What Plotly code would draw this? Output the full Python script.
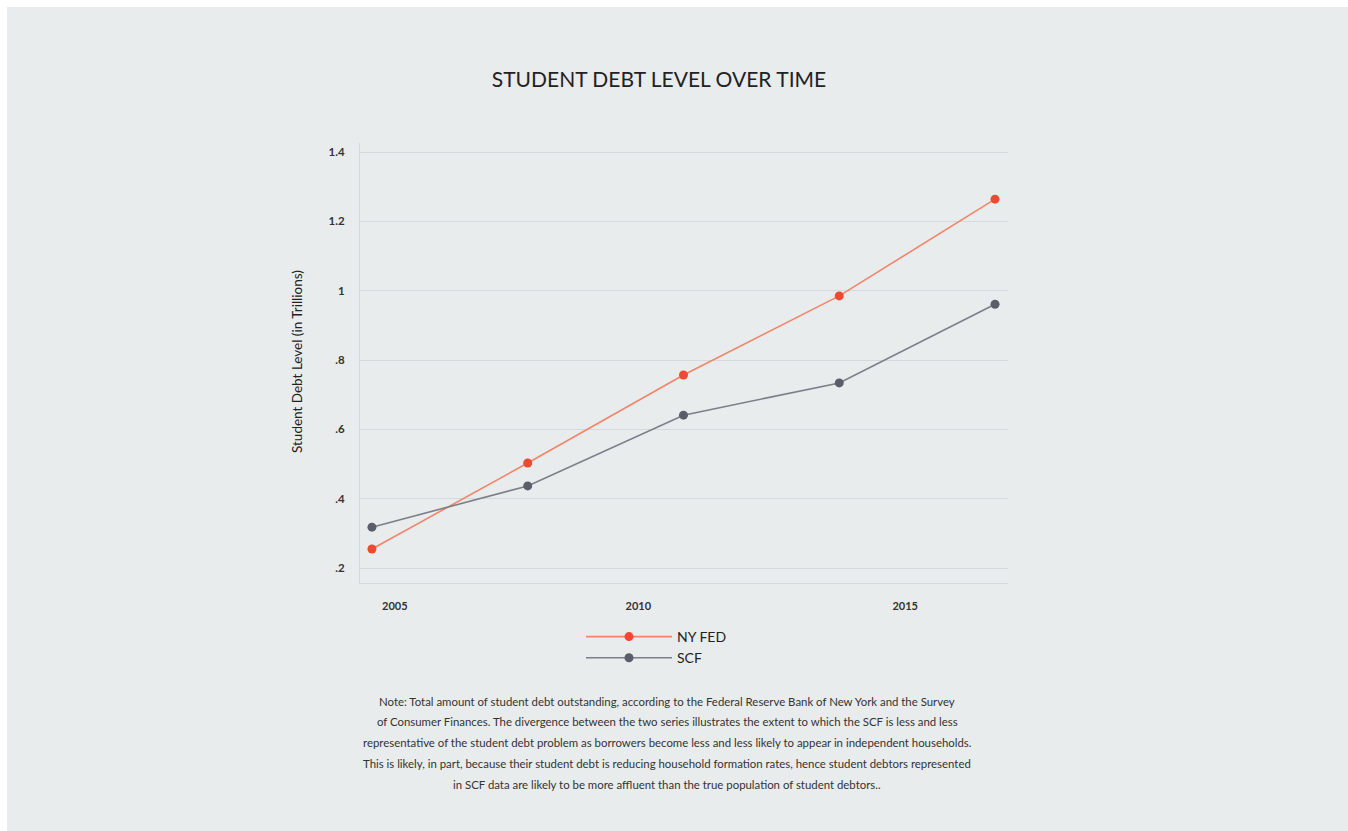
import plotly.graph_objects as go

years = [2004, 2007, 2010, 2013, 2016]
ny_fed = [0.255, 0.503, 0.757, 0.985, 1.264]
scf = [0.318, 0.437, 0.641, 0.734, 0.961]

y_tickvals = [0.2, 0.4, 0.6, 0.8, 1.0, 1.2, 1.4]
y_ticktext = [".2", ".4", ".6", ".8", "1", "1.2", "1.4"]
x_tickvals = [2004.44, 2009.13, 2014.27]
x_ticktext = ["2005", "2010", "2015"]

note_lines = [
    "Note: Total amount of student debt outstanding, according to the Federal Reserve Bank of New York and the Survey",
    "of Consumer Finances. The divergence between the two series illustrates the extent to which the SCF is less and less",
    "representative of the student debt problem as borrowers become less and less likely to appear in independent households.",
    "This is likely, in part, because their student debt is reducing household formation rates, hence student debtors represented",
    "in SCF data are likely to be more affluent than the true population of student debtors..",
]

BG = "#e9eced"
GRID = "#d6d9db"
FONT = "Lato"
NY_LINE, NY_MARK = "#f28468", "#ee4a30"
SCF_LINE, SCF_MARK = "#7c7f88", "#5b5e6a"

W, H = 1348, 831
L, R, T, B = 360, 340, 143, 248
PW, PH = W - L - R, H - T - B

def px_x(px):
    return (px - L) / PW

def px_y(py):
    return (H - B - py) / PH

fig = go.Figure()
fig.add_trace(go.Scatter(
    x=years, y=ny_fed, name="NY FED", mode="lines+markers",
    line=dict(color=NY_LINE, width=1.6),
    marker=dict(color=NY_MARK, size=9),
))
fig.add_trace(go.Scatter(
    x=years, y=scf, name="SCF", mode="lines+markers",
    line=dict(color=SCF_LINE, width=1.6),
    marker=dict(color=SCF_MARK, size=9),
))

fig.update_layout(
    width=W, height=H,
    margin=dict(l=L, r=R, t=T, b=B, pad=0),
    paper_bgcolor="white",
    plot_bgcolor=BG,
    font=dict(family=FONT, color="#333333"),
    title=dict(text="STUDENT DEBT LEVEL OVER TIME", x=659 / W, xref="container",
               xanchor="center",
               y=1 - 80 / H, yanchor="middle",
               font=dict(family=FONT, size=21, color="#222222")),
    showlegend=True,
    legend=dict(x=px_x(581), y=px_y(621), xanchor="left", yanchor="top",
                bgcolor="rgba(0,0,0,0)", font=dict(family=FONT, size=14, color="#222222"),
                tracegroupgap=0, itemwidth=86),
    shapes=[dict(type="rect", xref="paper", yref="paper",
                 x0=px_x(7), x1=px_x(W + 5), y0=px_y(H + 5), y1=px_y(7),
                 fillcolor=BG, line=dict(width=0), layer="below")],
)

fig.update_xaxes(
    range=[2003.77, 2016.25], tickvals=x_tickvals, ticktext=x_ticktext,
    showgrid=False, zeroline=False, showline=True, linecolor=GRID, linewidth=1,
    ticks="", ticklabelstandoff=13,
    tickfont=dict(family=FONT, size=11, color="#333333", weight="bold"),
)
fig.update_yaxes(
    range=[0.157, 1.426], tickvals=y_tickvals, ticktext=y_ticktext,
    showgrid=True, gridcolor=GRID, gridwidth=1, zeroline=False,
    showline=True, linecolor=GRID, linewidth=1,
    ticks="", ticklabelstandoff=12,
    tickfont=dict(family=FONT, size=11.5, color="#333333", weight="bold"),
)

fig.add_annotation(text="Student Debt Level (in Trillions)", textangle=-90,
                   xref="paper", yref="paper", x=px_x(287), y=px_y(362),
                   showarrow=False, font=dict(family=FONT, size=13.5, color="#222222"))

for i, line in enumerate(note_lines):
    fig.add_annotation(text=line, xref="paper", yref="paper",
                       x=px_x(667), y=px_y(701 + i * 20.8),
                       showarrow=False, xanchor="center", yanchor="middle",
                       font=dict(family=FONT, size=11.4, color="#333333"))

fig.write_html("out.html")
